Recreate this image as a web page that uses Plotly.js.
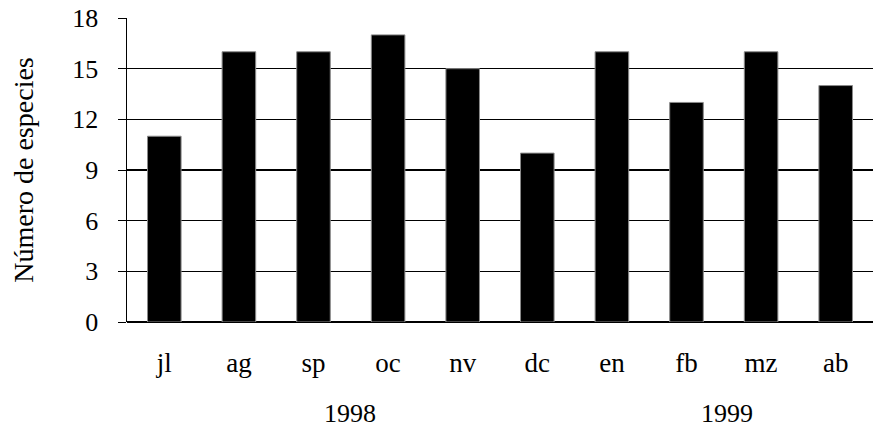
<!DOCTYPE html>
<html>
<head>
<meta charset="utf-8">
<script src="https://cdn.plot.ly/plotly-3.0.1.min.js"></script>
<style>html,body{margin:0;padding:0;background:#fff;}#chart{width:874px;height:428px;}</style>
</head>
<body>
<div id="chart"></div>
<script>
const months = ["jl","ag","sp","oc","nv","dc","en","fb","mz","ab"];
const species = [11,16,16,17,15,10,16,13,16,14];
const yearLabels = ["1998","1999"];
const yTitle = "Número de especies";
const yTicks = [0,3,6,9,12,15,18];

const fam = "Liberation Serif";
const tickFont = {family: fam, size: 26, color: "#000"};
const monthFont = {family: fam, size: 27, color: "#000"};
const yearFont = {family: fam, size: 26, color: "#000"};
const titleFont = {family: fam, size: 28, color: "#000"};

Plotly.newPlot("chart", [{
  type: "bar",
  x: months,
  y: species,
  marker: {color: "#000", line: {color: "#8a8a8a", width: 1}},
  hoverinfo: "none"
}], {
  width: 874, height: 428,
  margin: {l: 127, r: 1, t: 18, b: 106, pad: 0},
  paper_bgcolor: "#fff", plot_bgcolor: "#fff",
  font: tickFont,
  bargap: 0.55,
  showlegend: false,
  xaxis: {
    type: "category",
    showline: false, showgrid: false, zeroline: false,
    ticks: "", ticklabelstandoff: 22,
    tickfont: monthFont
  },
  yaxis: {
    range: [0, 18],
    tickvals: yTicks,
    showline: true, linecolor: "#000", linewidth: 1.5,
    ticks: "outside", ticklen: 8, tickcolor: "#000", tickwidth: 1,
    ticklabelstandoff: 14,
    showgrid: true, gridcolor: "#000", gridwidth: 1.5,
    zeroline: true, zerolinecolor: "#000", zerolinewidth: 2.5,
    tickfont: tickFont,
    title: {text: yTitle, font: titleFont, standoff: 30}
  },
  annotations: [
    {text: yearLabels[0], xref: "paper", yref: "paper", x: 0.299, y: -0.30, yanchor: "middle", xanchor: "center", showarrow: false, font: yearFont},
    {text: yearLabels[1], xref: "paper", yref: "paper", x: 0.804, y: -0.30, yanchor: "middle", xanchor: "center", showarrow: false, font: yearFont}
  ]
}, {staticPlot: true});
</script>
</body>
</html>
